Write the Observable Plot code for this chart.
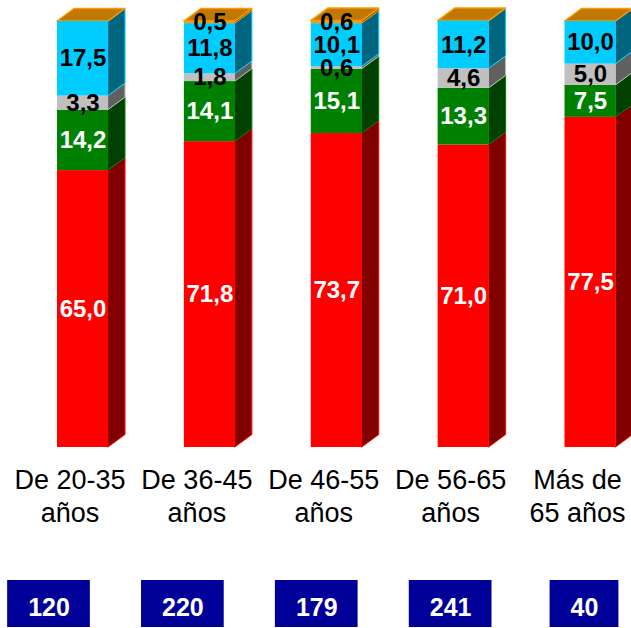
<!DOCTYPE html>
<html>
<head>
<meta charset="utf-8">
<script src="https://cdn.jsdelivr.net/npm/d3@7"></script>
<script src="https://cdn.jsdelivr.net/npm/@observablehq/plot@0.6"></script>
<style>
  html, body { margin: 0; padding: 0; background: #fff; }
  #chart svg { display: block; }
</style>
</head>
<body>
<div id="chart"></div>
<script>
// ---- data ----
const categories = ["De 20-35 años", "De 36-45 años", "De 46-55 años", "De 56-65 años", "Más de 65 años"];
const tickLabels = ["De 20-35\naños", "De 36-45\naños", "De 46-55\naños", "De 56-65\naños", "Más de\n65 años"];
const serie1 = [65.0, 71.8, 73.7, 71.0, 77.5];   // rojo
const serie2 = [14.2, 14.1, 15.1, 13.3, 7.5];    // verde
const serie3 = [3.3, 1.8, 0.6, 4.6, 5.0];        // gris
const serie4 = [17.5, 11.8, 10.1, 11.2, 10.0];   // celeste
const serie5 = [0.0, 0.5, 0.6, 0.0, 0.0];        // naranja
const sampleSizes = [120, 220, 179, 241, 40];

// ---- styles ----
const frontColors = ["#FF0000", "#008000", "#C0C0C0", "#00CCFF", "#FF9900"];
const sideColors  = ["#800000", "#004000", "#606060", "#006680", "#804C00"];
const labelColors = ["#FFFFFF", "#FFFFFF", "#000000", "#000000", "#000000"];
const topColor = "#C07800", topEdge = "#FF9900", boxColor = "#000099";
const font = "'Liberation Sans', Arial, Helvetica, sans-serif";

// ---- layout (pixels) ----
const W = 631, H = 628;
const xRange = [82.5, 590], yRange = [447, 21];
const pxX = (xRange[1] - xRange[0]) / (categories.length - 1);
const pxY = (yRange[0] - yRange[1]) / 100;
const ux = px => px / pxX;              // pixel length -> x units
const uy = px => px / pxY;              // pixel length -> y units
const hw = ux(25.5), DX = ux(17), DY = uy(12.5);
const boxTop = uy(yRange[0] - 580), boxBottom = uy(yRange[0] - 627);
const boxLeftPx = 48.5, boxRightPx = 584;
const boxX = i => ux(boxLeftPx - xRange[0]) + i * ux((boxRightPx - boxLeftPx) / (categories.length - 1));
const boxW = d => ux(String(d).length * 13.9 + 41);

// ---- stacking ----
const values = [serie1, serie2, serie3, serie4, serie5];
const segments = [];
const totals = [];
categories.forEach((c, i) => {
  let acc = 0;
  values.forEach((v, s) => {
    segments.push({i, s, y0: acc, y1: acc + v[i], v: v[i]});
    acc += v[i];
  });
  totals.push(acc);
});
const visible = segments.filter(d => d.v > 0);

const sidePts = visible.flatMap(d => [
  {id: d.i * 10 + d.s, x: d.i + hw, y1: d.y0, y2: d.y1, fill: sideColors[d.s], stroke: frontColors[d.s]},
  {id: d.i * 10 + d.s, x: d.i + hw + DX, y1: d.y0 + DY, y2: d.y1 + DY, fill: sideColors[d.s], stroke: frontColors[d.s]}
]);
const topPts = totals.flatMap((t, i) => [
  {i, y: t, x1: i - hw, x2: i + hw},
  {i, y: t + DY, x1: i - hw + DX, x2: i + hw + DX}
]);

const fmt = v => v.toFixed(1).replace(".", ",");

const chart = Plot.plot({
  width: W,
  height: H,
  margin: 0,
  style: {fontFamily: font, background: "#fff", overflow: "visible"},
  x: {domain: [0, categories.length - 1], range: xRange, axis: null},
  y: {domain: [0, 100], range: yRange, axis: null},
  color: {type: "identity"},
  marks: [
    // side faces
    Plot.areaY(sidePts, {x: "x", y1: "y1", y2: "y2", z: "id", fill: "fill", stroke: "stroke", strokeWidth: 1}),
    // top faces
    Plot.areaX(topPts, {y: "y", x1: "x1", x2: "x2", z: "i", fill: topColor, stroke: topEdge, strokeWidth: 1.5}),
    // front faces
    Plot.rect(visible, {x1: d => d.i - hw, x2: d => d.i + hw, y1: "y0", y2: "y1", fill: d => frontColors[d.s]}),
    // value labels
    Plot.text(visible, {
      x: "i", y: d => (d.y0 + d.y1) / 2, text: d => fmt(d.v),
      fill: d => labelColors[d.s], fontSize: 24, fontWeight: "bold"
    }),
    // category labels
    Plot.text(categories, {
      x: (d, i) => i, y: 0, text: (d, i) => tickLabels[i],
      dx: -13, dy: 18, lineAnchor: "top", lineHeight: 1.22, fontSize: 27, fill: "#000"
    }),
    // sample size boxes
    Plot.rect(sampleSizes, {
      x1: (d, i) => boxX(i) - boxW(d) / 2, x2: (d, i) => boxX(i) + boxW(d) / 2,
      y1: boxBottom, y2: boxTop, fill: boxColor
    }),
    Plot.text(sampleSizes, {
      x: (d, i) => boxX(i), y: (boxTop + boxBottom) / 2, dy: 4,
      text: d => String(d), fill: "#FFFFFF", fontSize: 25, fontWeight: "bold"
    })
  ]
});
document.getElementById("chart").append(chart);
</script>
</body>
</html>
